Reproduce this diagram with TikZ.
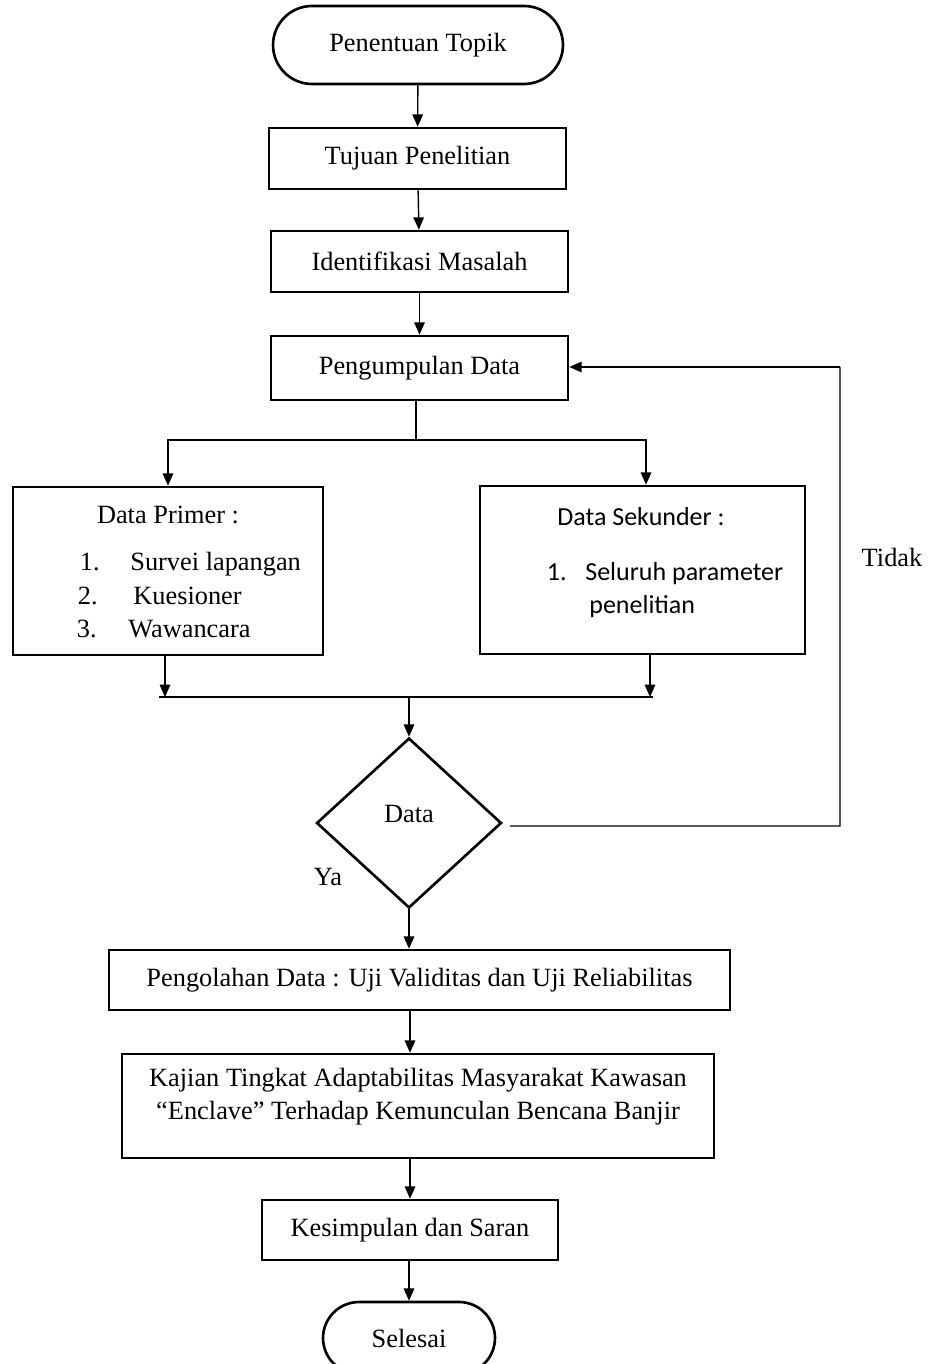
\documentclass[tikz,border=0pt]{standalone}
\usepackage{fontspec}
\setmainfont{Liberation Serif}
\newfontfamily\calibrifont{Carlito}
\usetikzlibrary{arrows.meta,shapes.geometric,shapes.misc}

\begin{document}
\begin{tikzpicture}[x=0.02cm,y=-0.02cm,
    every node/.style={font=\fontsize{15}{18}\selectfont},
    box/.style={draw,line width=1.5pt,inner sep=0pt},
    term/.style={draw,rounded rectangle,line width=1.5pt,inner sep=0pt},
    txt/.style={inner sep=0pt},
    sektxt/.style={inner sep=0pt,font=\calibrifont\fontsize{14.8}{17}\selectfont},
    conn/.style={line width=0.8pt},
    arr/.style={line width=0.8pt,-{Triangle[length=7pt,width=6pt]}}]
\clip (0,0) rectangle (930,1364);
% main column
\node[term,minimum width=5.8cm,minimum height=1.56cm] (start) at (418,45) {Penentuan Topik};
\node[box,minimum width=5.94cm,minimum height=1.22cm] (tujuan) at (417.5,158.5) {Tujuan Penelitian};
\node[box,minimum width=5.94cm,minimum height=1.22cm] (ident) at (419.5,261.5) {Identifikasi Masalah};
\node[box,minimum width=5.94cm,minimum height=1.28cm] (kumpul) at (419.5,368) {Pengumpulan Data};
% data boxes
\node[box,minimum width=6.2cm,minimum height=3.36cm] (primer) at (168,571) {};
\node[txt,anchor=base] (primtitle) at (168,523) {Data Primer :};
\node[txt,anchor=base east] (primn1) at (100,570) {1.};
\node[txt,anchor=base east] (primn2) at (98,604) {2.};
\node[txt,anchor=base east] (primn3) at (97,637) {3.};
\node[txt,anchor=base west] (prim1) at (130,570) {Survei lapangan};
\node[txt,anchor=base west] (prim2) at (133,604) {Kuesioner};
\node[txt,anchor=base west] (prim3) at (128,637) {Wawancara};
\node[box,minimum width=6.5cm,minimum height=3.36cm] (sekunder) at (642.5,570) {};
\node[sektxt,anchor=base] (sektitle) at (641,525) {Data Sekunder :};
\node[sektxt,anchor=base east] (sekn1) at (567,580) {1.};
\node[sektxt,anchor=base west] (sek1) at (585,580) {Seluruh parameter};
\node[sektxt,anchor=base west] (sek2) at (589,613) {penelitian};
% decision
\node[draw,diamond,line width=1.5pt,inner sep=0pt,minimum width=3.7cm,minimum height=3.4cm] (cek) at (409,823) {};
\node (cektxt) at (409,814) {Data};
\node (ya) at (328,877) {Ya};
\node (tidak) at (892,557) {Tidak};
% lower column
\node[box,minimum width=12.42cm,minimum height=1.2cm] (olah) at (419.5,980) {Pengolahan Data : Uji Validitas dan Uji Reliabilitas};
\node[box,minimum width=11.84cm,minimum height=2.08cm] (kajian) at (418,1106) {};
\node[align=center,font=\fontsize{15}{18.7}\selectfont] (kajiantxt) at (418,1097) {Kajian Tingkat Adaptabilitas Masyarakat Kawasan\\ “Enclave” Terhadap Kemunculan Bencana Banjir};
\node[box,minimum width=5.92cm,minimum height=1.2cm] (simpul) at (410,1230) {Kesimpulan dan Saran};
\node[term,minimum width=3.44cm,minimum height=1.44cm] (selesai) at (409,1338) {Selesai};
% connectors
\coordinate (split) at (416,440);
\coordinate (mergeL) at (159,697);
\coordinate (mergeR) at (653,697);
\coordinate (loopB) at (840,826);
\coordinate (loopT) at (840,367);
\draw[arr] (start) -- (tujuan);
\draw[arr] (tujuan) -- (ident);
\draw[arr] (ident) -- (kumpul);
\draw[conn] (kumpul.south -| split) -- (split);
\draw[arr] (split) -| (primer.north);
\draw[arr] (split) -| ([xshift=0.07cm]sekunder.north);
\draw[arr] ([xshift=-0.06cm]primer.south) -- ([xshift=-0.06cm]primer.south |- mergeL);
\draw[arr] ([xshift=0.15cm]sekunder.south) -- ([xshift=0.15cm]sekunder.south |- mergeR);
\draw[conn] (mergeL) -- (mergeR);
\draw[arr] (cek.north |- mergeL) -- (cek.north);
\draw[conn] ([xshift=0.14cm,yshift=-0.06cm]cek.east) -- (loopB) -- (loopT);
\draw[arr] (loopT) -- (kumpul.east |- loopT);
\draw[arr] (cek.south) -- (cek.south |- olah.north);
\draw[arr] (simpul.north |- olah.south) -- (simpul.north |- kajian.north);
\draw[arr] (simpul.north |- kajian.south) -- (simpul.north);
\draw[arr] (selesai.north |- simpul.south) -- (selesai.north);
\end{tikzpicture}
\end{document}
